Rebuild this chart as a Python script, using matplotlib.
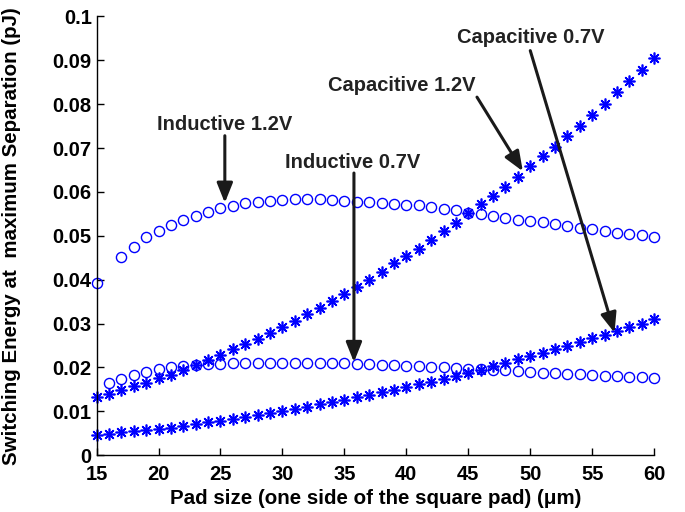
import matplotlib
matplotlib.use('Agg')
import matplotlib.pyplot as plt
import numpy as np

plt.rcParams['font.family'] = ['Liberation Sans', 'DejaVu Sans']
plt.rcParams['font.weight'] = 'bold'
plt.rcParams['font.size'] = 14.5

BLUE = '#0000FF'

# pad size (um)
x_ind12 = [15] + list(range(17, 61))
x_ind07 = list(range(16, 61))
x_cap = list(range(15, 61))

# switching energy (pJ)
e_ind12 = [0.0392, 0.0451, 0.0475, 0.0497, 0.0512, 0.0524, 0.0535, 0.0545, 0.0554,
           0.0563, 0.0568, 0.0574, 0.0578, 0.0580, 0.0582, 0.0583, 0.0583, 0.0583,
           0.0582, 0.0580, 0.0578, 0.0576, 0.0575, 0.0573, 0.0571, 0.0569, 0.0566,
           0.0562, 0.0558, 0.0553, 0.0549, 0.0544, 0.0540, 0.0536, 0.0534, 0.0531,
           0.0527, 0.0522, 0.0518, 0.0515, 0.0512, 0.0507, 0.0504, 0.0501, 0.0497]
e_ind07 = [0.0165, 0.0174, 0.0183, 0.0190, 0.0196, 0.0200, 0.0204, 0.0205, 0.0207,
           0.0208, 0.0209, 0.0209, 0.0210, 0.0210, 0.0210, 0.0210, 0.0210, 0.0209,
           0.0209, 0.0209, 0.0208, 0.0207, 0.0206, 0.0205, 0.0204, 0.0203, 0.0202,
           0.0200, 0.0199, 0.0197, 0.0196, 0.0194, 0.0193, 0.0191, 0.0190, 0.0188,
           0.0187, 0.0185, 0.0184, 0.0183, 0.0181, 0.0180, 0.0179, 0.0178, 0.0177]
e_cap12 = [0.0133, 0.0139, 0.0148, 0.0157, 0.0165, 0.0175, 0.0183, 0.0194, 0.0205,
           0.0218, 0.0228, 0.0242, 0.0253, 0.0265, 0.0279, 0.0293, 0.0306, 0.0321,
           0.0335, 0.0351, 0.0367, 0.0383, 0.0399, 0.0418, 0.0437, 0.0454, 0.0471,
           0.0491, 0.0510, 0.0530, 0.0553, 0.0573, 0.0591, 0.0612, 0.0635, 0.0658,
           0.0681, 0.0703, 0.0728, 0.0751, 0.0776, 0.0801, 0.0827, 0.0852, 0.0878,
           0.0905]
e_cap07 = [0.0046, 0.0048, 0.0052, 0.0055, 0.0057, 0.0059, 0.0063, 0.0066, 0.0071,
           0.0075, 0.0078, 0.0082, 0.0086, 0.0091, 0.0097, 0.0100, 0.0105, 0.0110,
           0.0116, 0.0122, 0.0126, 0.0132, 0.0137, 0.0143, 0.0148, 0.0156, 0.0162,
           0.0167, 0.0173, 0.0181, 0.0188, 0.0195, 0.0203, 0.0211, 0.0219, 0.0226,
           0.0233, 0.0242, 0.0249, 0.0257, 0.0266, 0.0274, 0.0283, 0.0291, 0.0300,
           0.0310]

# label text, text position, arrow tail, arrow tip
notes = [
    ('Inductive 1.2V', (25.3, 0.0753), (25.35, 0.0728), (25.35, 0.0575)),
    ('Inductive 0.7V', (35.7, 0.0668), (35.77, 0.0643), (35.77, 0.0212)),
    ('Capacitive 1.2V', (39.6, 0.0842), (45.7, 0.0816), (49.4, 0.0647)),
    ('Capacitive 0.7V', (50.0, 0.0951), (50.0, 0.0922), (56.8, 0.0279)),
]

fig = plt.figure(figsize=(6.85, 5.12), dpi=100)
ax = fig.add_axes([0.141, 0.111, 0.814, 0.857])

circ = dict(marker='o', ls='none', ms=7.3, mfc='none', mec=BLUE, mew=1.0, clip_on=False)
star = dict(marker=(8, 2, 0), ls='none', ms=8.5, mec=BLUE, mew=1.2, clip_on=False)
ax.plot(x_ind12, e_ind12, **circ)
ax.plot(x_ind07, e_ind07, **circ)
ax.plot(x_cap, e_cap12, **star)
ax.plot(x_cap, e_cap07, **star)

for label, tpos, tail, tip in notes:
    ax.text(tpos[0], tpos[1], label, ha='center', va='center', fontsize=14.5,
            fontweight='bold', color='#222222')
    ax.annotate('', xy=tip, xytext=tail,
                arrowprops=dict(arrowstyle='-|>,head_length=0.75,head_width=0.3',
                                mutation_scale=16, lw=2.2, color='#1a1a1a',
                                shrinkA=0, shrinkB=0))

ax.set_xlim(15, 60)
ax.set_ylim(0, 0.1)
ax.set_xticks(np.arange(15, 61, 5))
ax.set_yticks(np.arange(0, 0.101, 0.01))
ax.set_yticklabels(['0'] + [f'{v:.2f}' for v in np.arange(0.01, 0.095, 0.01)] + ['0.1'])
ax.spines['top'].set_visible(False)
ax.spines['right'].set_visible(False)
for s in ('left', 'bottom'):
    ax.spines[s].set_linewidth(1.0)
ax.tick_params(direction='in', length=5, width=1.0)
ax.tick_params(axis='y', pad=3.5)
ax.tick_params(axis='x', pad=7)
ax.set_xlabel('Pad size (one side of the square pad) (\u03bcm)', fontsize=14.8,
              fontweight='bold', labelpad=4)
ax.set_ylabel('Switching Energy at  maximum Separation (pJ)', fontsize=14.8,
              fontweight='bold', labelpad=23)

plt.savefig('out.png', dpi=100)
